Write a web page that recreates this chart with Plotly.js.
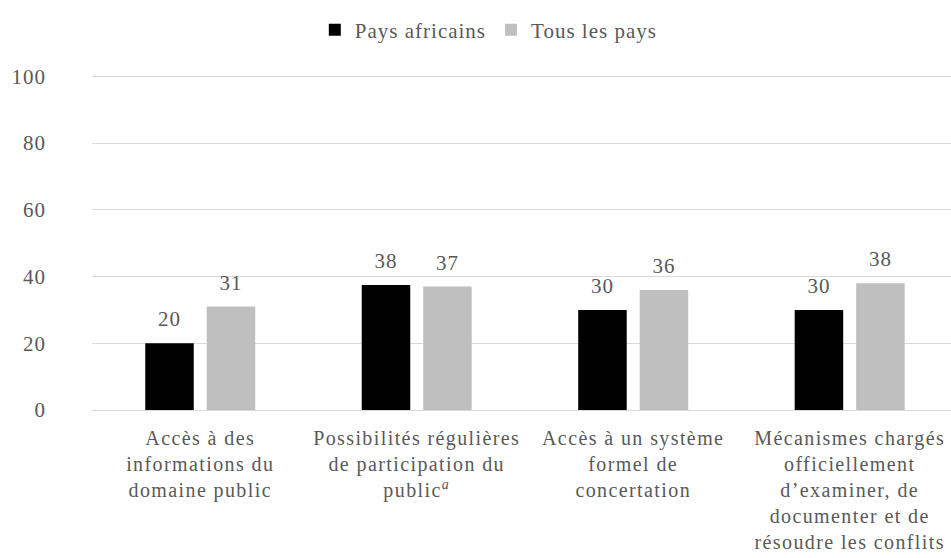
<!DOCTYPE html>
<html>
<head>
<meta charset="utf-8">
<script src="https://cdn.plot.ly/plotly-3.0.1.min.js"></script>
<style>
html,body{margin:0;padding:0;background:#fff;}
#chart{width:951px;height:558px;}
svg text{letter-spacing:1px;}
.xtick text{letter-spacing:1.4px;}
</style>
</head>
<body>
<div id="chart"></div>
<script>
const categories = [
  "Accès à des<br>informations du<br>domaine public",
  "Possibilités régulières<br>de participation du<br>public<i><sup>a</sup></i>",
  "Accès à un système<br>formel de<br>concertation",
  "Mécanismes chargés<br>officiellement<br>d’examiner, de<br>documenter et de<br>résoudre les conflits"
];
const seriesNames = ["Pays africains", "Tous les pays"];
const paysAfricains = [20, 37.5, 30, 30];
const tousLesPays = [31, 37, 36, 38];
const labelsAfricains = ["20", "38", "30", "30"];
const labelsTous = ["31", "37", "36", "38"];
const yTicks = [0, 20, 40, 60, 80, 100];

const fam = "Liberation Serif, Times New Roman, serif";
const font = {family: fam, size: 21, color: "#595959"};
const xfont = {family: fam, size: 20, color: "#595959"};

const traces = [
  {type: "bar", name: seriesNames[0], x: categories, y: paysAfricains,
   marker: {color: "#000000"}, hoverinfo: "none"},
  {type: "bar", name: seriesNames[1], x: categories, y: tousLesPays,
   marker: {color: "#bfbfbf"}, hoverinfo: "none"},
  {type: "scatter", mode: "markers+text", x: categories, y: paysAfricains, text: labelsAfricains,
   textposition: "top center", textfont: font, marker: {size: 17, opacity: 0, color: "#000"},
   showlegend: false, cliponaxis: false, hoverinfo: "none"},
  {type: "scatter", mode: "markers+text", x: categories, y: tousLesPays, text: labelsTous,
   textposition: "top center", textfont: font, marker: {size: 17, opacity: 0, color: "#000"},
   showlegend: false, cliponaxis: false, hoverinfo: "none"}
];

const layout = {
  width: 951, height: 558,
  margin: {l: 92, r: 0, t: 73, b: 148, autoexpand: false},
  paper_bgcolor: "#ffffff", plot_bgcolor: "#ffffff",
  font: font,
  barmode: "group", bargap: 0.432, bargroupgap: 0.211,
  scattermode: "group", scattergap: 0.432,
  showlegend: true,
  legend: {orientation: "h", x: 0.514, xanchor: "center", xref: "container",
           y: 0.946, yanchor: "middle", yref: "container",
           font: font, traceorder: "normal"},
  xaxis: {type: "category", range: [-0.5, 3.468], tickfont: xfont, tickangle: 0, showgrid: false, zeroline: false,
          showline: false, ticks: "", automargin: false, ticklabelstandoff: 14},
  yaxis: {range: [0, 101], tickvals: yTicks, ticktext: yTicks.map(String), tickfont: font,
          showgrid: true, gridcolor: "#d9d9d9", gridwidth: 1, zeroline: true, zerolinecolor: "#d9d9d9",
          zerolinewidth: 1, showline: false, ticks: "", ticklabelstandoff: 45, automargin: false}
};

Plotly.newPlot("chart", traces, layout, {displayModeBar: false, staticPlot: true});
</script>
</body>
</html>
